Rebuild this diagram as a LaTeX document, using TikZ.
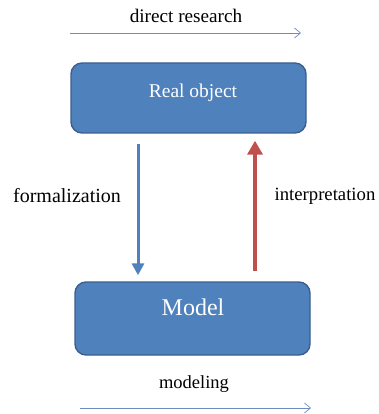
\documentclass[tikz,border=0pt]{standalone}
\usepackage{fontspec}
\setmainfont{Liberation Serif}
\usetikzlibrary{arrows.meta,calc}
\definecolor{boxfill}{HTML}{4F81BD}
\definecolor{boxedge}{HTML}{3A5F8E}
\definecolor{flowblue}{HTML}{4F81BD}
\definecolor{flowred}{HTML}{C0504D}
\definecolor{thinline}{HTML}{6E8DBE}
\tikzset{
  block/.style={draw=boxedge, line width=1.4pt, fill=boxfill, rounded corners=11pt,
    minimum width=235pt, inner sep=0pt},
  lbl/.style={font=\fontsize{18.5}{20}\selectfont, text=black, inner sep=0pt},
  thinarrow/.style={draw=thinline, line width=0.8pt, -{Straight Barb[length=6pt,width=10pt,line width=0.7pt]}},
  downarrow/.style={draw=flowblue, line width=3pt, -{Triangle[length=12pt,width=12pt]}},
  uparrow/.style={draw=flowred, line width=4.5pt, -{Triangle[length=14pt,width=15pt]}}
}
\begin{document}
\begin{tikzpicture}[x=1pt,y=-1pt]
\useasboundingbox (0,0) rectangle (378,414);
% the two boxes
\node[block, minimum height=70pt] (real) at (188.5,98) {};
\node[text=white, font=\fontsize{19.5}{21}\selectfont, inner sep=0pt] (realtxt) at (193,93) {Real object};
\node[block, minimum height=73pt] (model) at (192.5,318.5) {};
\node[text=white, font=\fontsize{24}{26}\selectfont, inner sep=0pt] (modeltxt) at (193,307) {Model};
% top and bottom flows
\node[lbl, font=\fontsize{19.2}{21}\selectfont] (direct) at (186,16) {direct research};
\coordinate (d1) at (70,33);
\coordinate (d2) at (301,33);
\draw[thinarrow] (d1) -- (d2);
\node[lbl] (modeling) at (194,384) {modeling};
\coordinate (m1) at (80,408);
\coordinate (m2) at (311,408);
\draw[thinarrow] (m1) -- (m2);
% vertical flows between the boxes
\coordinate (f1) at ($(real.south)+(-50.5,10)$);
\coordinate (f2) at ($(model.north)+(-54.5,-6)$);
\draw[downarrow] (f1) -- (f2);
\coordinate (i1) at ($(model.north)+(62.5,-10)$);
\coordinate (i2) at ($(real.south)+(66.5,7)$);
\draw[uparrow] (i1) -- (i2);
\node[lbl, font=\fontsize{20}{22}\selectfont] (form) at (67,196) {formalization};
\node[lbl, font=\fontsize{18.7}{20}\selectfont] (interp) at (325,196) {interpretation};
\end{tikzpicture}
\end{document}
